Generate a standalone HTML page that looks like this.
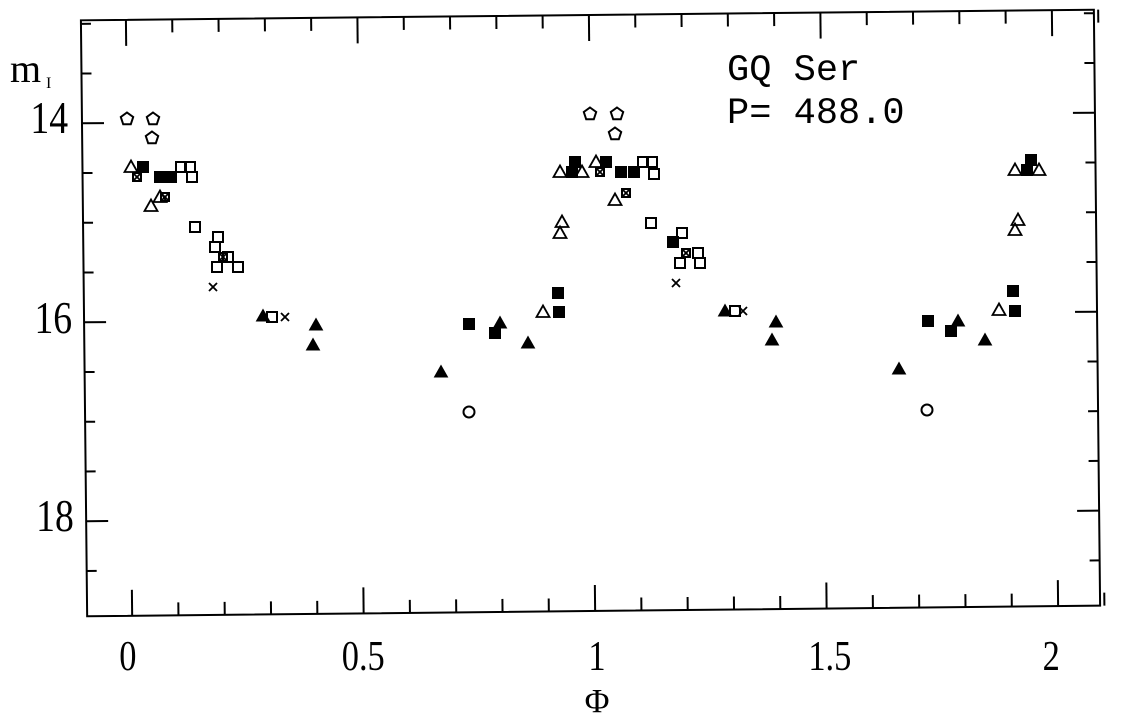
<!DOCTYPE html>
<html><head><meta charset="utf-8">
<style>
html,body{margin:0;padding:0;background:#fff;}
svg{display:block;}
text{font-family:"Liberation Serif",serif;fill:#000;}
</style></head>
<body>
<svg id="s" width="1140" height="720" viewBox="0 0 1140 720" xmlns="http://www.w3.org/2000/svg">
<g id="frame" transform="rotate(-0.6 590 312)" stroke="#000" stroke-width="2" fill="none">
<rect x="84" y="15" width="1013" height="596"/>
</g>
<g id="pts"></g>
<g transform="scale(0.82,1)">
<text x="156" y="670" font-size="42" text-anchor="middle">0</text>
<text x="443" y="670" font-size="42" text-anchor="middle">0.5</text>
<text x="728" y="670" font-size="42" text-anchor="middle">1</text>
<text x="1012" y="670" font-size="42" text-anchor="middle">1.5</text>
<text x="1282" y="670" font-size="42" text-anchor="middle">2</text>
<text x="83" y="133" font-size="46" text-anchor="end">14</text>
<text x="88" y="333" font-size="46" text-anchor="end">16</text>
<text x="90" y="531" font-size="46" text-anchor="end">18</text>
</g>
<text x="597" y="712" font-size="34" text-anchor="middle">Φ</text>
<text x="10" y="82" font-size="40">m</text><text x="46" y="88" font-size="16">I</text>
<text x="727" y="80" font-size="37" style="font-family:'Liberation Mono',monospace">GQ Ser</text>
<text x="727" y="123" font-size="37" style="font-family:'Liberation Mono',monospace">P= 488.0</text>
</svg>
<script>
var NS="http://www.w3.org/2000/svg";
var fr=document.getElementById("frame");
function ln(p,a,b,c,d){var e=document.createElementNS(NS,"line");e.setAttribute("x1",a);e.setAttribute("y1",b);e.setAttribute("x2",c);e.setAttribute("y2",d);p.appendChild(e);}
for(var i=0;i<=21;i++){var phi=i/10;var x=129+463*phi;var major=(i%5==0);var L=major?26:13;ln(fr,x,611,x,611-L);ln(fr,x,15,x,15+L);}
for(var k=0;k<=12;k++){var m=13+k*0.5;var y=118+99.5*(m-14);if(y<15||y>611)continue;var major=(k%4==2);var L=major?22:10;ln(fr,84,y,84+L,y);ln(fr,1097,y,1097-L,y);}
var g=document.getElementById("pts");
function el(t,a){var e=document.createElementNS(NS,t);for(var k in a)e.setAttribute(k,a[k]);g.appendChild(e);return e;}
function pent(x,y){var p=[];for(var i=0;i<5;i++){var a=-Math.PI/2+i*2*Math.PI/5;p.push((x+6.5*Math.cos(a)).toFixed(1)+","+(y+1+6.5*Math.sin(a)).toFixed(1));}el("polygon",{points:p.join(" "),fill:"none",stroke:"#000","stroke-width":2});}
function tri(x,y,f){el("polygon",{points:(x-6.5)+","+(y+5)+" "+(x+6.5)+","+(y+5)+" "+x+","+(y-6.5),fill:f?"#000":"none",stroke:"#000","stroke-width":f?1:1.8});}
function sq(x,y,f){el("rect",{x:x-5,y:y-5,width:10,height:10,fill:f?"#000":"none",stroke:"#000","stroke-width":2});}
function xs(x,y){var p=document.createElementNS(NS,"path");p.setAttribute("d","M"+(x-4)+" "+(y-4)+"L"+(x+4)+" "+(y+4)+"M"+(x+4)+" "+(y-4)+"L"+(x-4)+" "+(y+4));p.setAttribute("stroke","#000");p.setAttribute("stroke-width","1.8");g.appendChild(p);}
function xsq(x,y){el("rect",{x:x-4,y:y-4,width:8,height:8,fill:"none",stroke:"#000","stroke-width":2});xs(x,y);}
function circ(x,y){el("circle",{cx:x,cy:y,r:5.5,fill:"none",stroke:"#000","stroke-width":2});}
[[127,118],[153,118],[152,137],[590,113],[617,113],[615,133]].forEach(function(p){pent(p[0],p[1]);});
[[131,167],[151,206],[160,197],[560,172],[582,172],[596,162],[615,200],[562,222],[560,233],[543,312],[999,310],[1018,220],[1015,230],[1015,170],[1039,170]].forEach(function(p){tri(p[0],p[1],false);});
[[263,316],[316,325],[313,345],[725,311],[500,323],[528,343],[441,372],[776,322],[772,340],[899,369],[958,321],[985,340]].forEach(function(p){tri(p[0],p[1],true);});
[[143,167],[160,177],[171,177],[575,162],[572,172],[606,162],[621,172],[634,172],[673,242],[558,293],[559,312],[469,324],[495,333],[928,321],[951,331],[1015,311],[1013,291],[1027,170],[1031,160]].forEach(function(p){sq(p[0],p[1],true);});
[[181,167],[190,167],[192,177],[195,227],[215,247],[218,237],[217,267],[228,257],[238,267],[272,317],[643,162],[652,162],[654,174],[651,223],[682,233],[698,253],[680,263],[700,263],[735,311]].forEach(function(p){sq(p[0],p[1],false);});
[[137,177],[165,197],[223,257],[600,172],[626,193],[686,253]].forEach(function(p){xsq(p[0],p[1]);});
[[213,287],[285,317],[676,283],[743,311]].forEach(function(p){xs(p[0],p[1]);});
circ(469,412);circ(927,410);
</script>
</body></html>
